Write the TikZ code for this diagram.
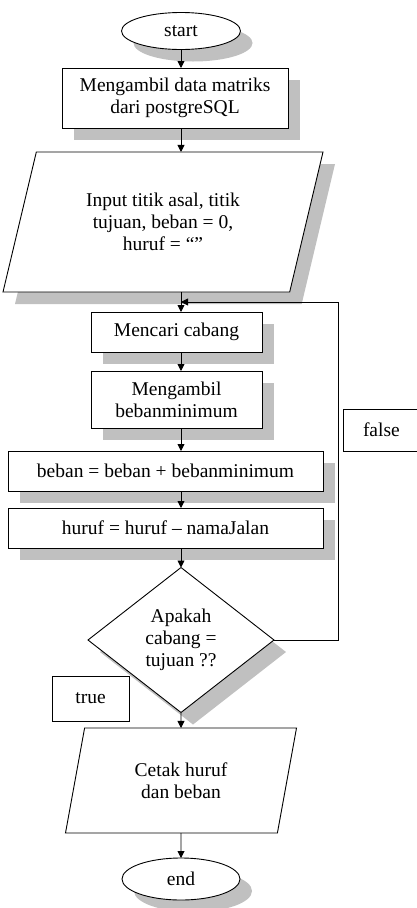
\documentclass[tikz,border=0pt]{standalone}
\usepackage{fontspec}
\setmainfont{Liberation Serif}
\usepackage{tikz}
\usetikzlibrary{arrows.meta, positioning, shapes.geometric, shadows}
\definecolor{shadowgray}{RGB}{192,192,192}
\newcommand{\flowfont}{\fontsize{19.5}{22}\selectfont}

\begin{document}
\begin{tikzpicture}[x=1pt, y=-1pt, every node/.style={font=\flowfont},
      shadowed/.style={drop shadow={shadow xshift=12pt, shadow yshift=-12pt, fill=shadowgray, opacity=1}},
      box/.style={draw, fill=white, line width=0.9pt, align=center, inner sep=0pt, outer sep=0pt},
      term/.style={box, ellipse},
      io/.style={box, trapezium, trapezium left angle=60, trapezium right angle=120, trapezium stretches body},
      ask/.style={box, diamond, aspect=1.28},
      ar/.style={-{Triangle[length=7pt, width=7pt]}, line width=0.9pt}]
    \useasboundingbox (0,0) rectangle (416,908);
    \node[term, shadowed, minimum width=119pt, minimum height=37pt] (start) at (181,31) {start};
    \node[box, shadowed, minimum width=226pt, minimum height=60pt] (fetch) at (175,98) {Mengambil data matriks\\dari postgreSQL};
    \node[io, shadowed, minimum width=320pt, minimum height=140pt] (inp) at (163,222) {Input titik asal, titik\\tujuan, beban = 0,\\huruf = ``''};
    \node[box, shadowed, minimum width=171pt, minimum height=40pt] (cari) at (176.5,332) {Mencari cabang};
    \node[box, shadowed, minimum width=171pt, minimum height=57pt] (minim) at (176.5,399.5) {Mengambil\\bebanminimum};
    \node[box, shadowed, minimum width=315pt, minimum height=40pt] (tambah) at (165.5,471) {beban = beban + bebanminimum};
    \node[box, shadowed, minimum width=315pt, minimum height=40pt] (huruf) at (165.5,528) {huruf = huruf -- namaJalan};
    \node[ask, shadowed, minimum width=186pt, minimum height=145pt] (cek) at (181,640) {Apakah\\cabang =\\tujuan ??};
    \node[io, trapezium left angle=62, trapezium right angle=118, minimum width=231pt, minimum height=105pt] (cetak) at (181,780.5) {Cetak huruf\\dan beban};
    \node[term, shadowed, minimum width=118pt, minimum height=42pt] (stop) at (181,879) {end};
    \node[box, anchor=west, align=left, text width=80pt, inner xsep=20pt, minimum height=42pt] (salah) at (343,430) {false};
    \node[box, minimum width=77pt, minimum height=45pt] (benar) at (90.5,698.5) {true};
    \coordinate (back) at (338,302);
    \draw[ar] (start) -- (start |- fetch.north);
    \draw[ar] (fetch.south -| start) -- (start |- inp.north);
    \draw[ar] (start |- inp.south) -- (start |- cari.north);
    \draw[ar] (start |- cari.south) -- (start |- minim.north);
    \draw[ar] (start |- minim.south) -- (start |- tambah.north);
    \draw[ar] (start |- tambah.south) -- (start |- huruf.north);
    \draw[ar] (start |- huruf.south) -- (cek);
    \draw[ar] (cek) -- (cetak);
    \draw[ar] (cetak) -- (stop);
    \draw[ar] (cek.east) -| (back) -- (start |- back);
  \end{tikzpicture}
\end{document}
